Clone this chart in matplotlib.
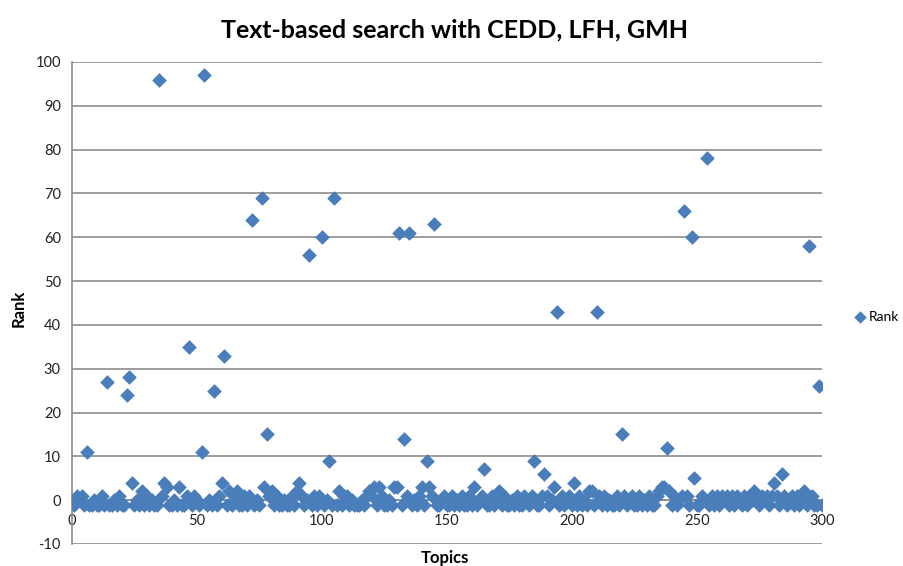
import matplotlib.pyplot as plt
import numpy as np

# rank of the relevant image per topic (-1 = not retrieved)
topics = np.arange(1, 301)
rank = [
    -1, 1, 0, 1, -1, 11, -1, -1, 0, -1, -1, 1, -1, 27, -1, -1, 0, -1, 1, -1,
    -1, 24, 28, 4, -1, 0, -1, 2, -1, 1, -1, 0, -1, -1, 96, 1, 4, 3, -1, -1,
    0, -1, 3, -1, -1, 1, 35, -1, 1, 0, -1, 11, 97, -1, 0, -1, 25, -1, 1, 4,
    33, -1, 2, -1, 0, 2, -1, -1, 1, -1, 1, 64, -1, 0, -1, 69, 3, 15, 1, 2,
    -1, 1, -1, -1, 0, -1, -1, 1, -1, 2, 4, 1, -1, 0, 56, -1, 1, -1, 1, 60,
    -1, 0, 9, -1, 69, -1, 2, -1, 1, 1, -1, 0, -1, -1, -1, 0, -1, 1, 2, 1,
    3, -1, 3, 1, -1, -1, 0, -1, 3, 3, 61, -1, 14, 1, 61, -1, 0, -1, 1, 3,
    -1, 9, 3, 1, 63, -1, -1, 0, 1, -1, -1, 1, -1, 0, -1, 1, -1, -1, 1, -1,
    3, -1, 0, 1, 7, -1, -1, 1, -1, 0, 2, -1, 1, -1, -1, 0, -1, 1, -1, -1,
    1, 0, -1, 1, 9, -1, -1, 1, 6, 1, -1, 0, 3, 43, -1, 1, -1, 0, 1, -1,
    4, -1, 1, -1, 0, -1, 2, 2, -1, 43, 1, -1, 1, -1, 0, -1, -1, 1, -1, 15,
    1, -1, 0, 1, -1, -1, 1, -1, 0, -1, 1, -1, -1, 1, 2, 3, 3, 12, 2, -1,
    1, -1, 0, 1, 66, 1, -1, 60, 5, -1, -1, 1, 0, 78, -1, 1, -1, 1, -1, 1,
    0, 1, -1, 1, -1, 1, 0, -1, 1, -1, 1, 0, 2, 1, -1, 1, 0, 1, -1, 1,
    4, 1, -1, 6, 1, -1, 0, 1, -1, 1, -1, 0, 2, -1, 58, 1, -1, -1, 26, -1,
]
x_ticks = [0, 50, 100, 150, 200, 250, 300]
y_ticks = list(range(-10, 101, 10))

plt.rcParams['font.family'] = ['Lato', 'DejaVu Sans']
plt.rcParams['axes.unicode_minus'] = False

fig = plt.figure(figsize=(9.04, 5.66), dpi=100)
ax = fig.add_axes([0.0796, 0.0389, 0.8296, 0.8516])

ax.scatter(topics, rank, marker='D', s=56, color='#4A7EBB', label='Rank',
           zorder=3, linewidths=0)

ax.set_xlim(0, 300)
ax.set_ylim(-10, 100)
ax.set_xticks(x_ticks)
ax.set_yticks(y_ticks)
ax.grid(axis='y', color='#8c8c8c', linewidth=1.2, zorder=0)
ax.set_axisbelow(True)

for side in ['top', 'right']:
    ax.spines[side].set_visible(False)
ax.spines['bottom'].set_position(('data', 0))
ax.spines['bottom'].set_color('#8c8c8c')
ax.spines['left'].set_color('#8c8c8c')
ax.spines['left'].set_linewidth(1.2)
ax.spines['bottom'].set_linewidth(1.2)
ax.tick_params(axis='x', length=0, pad=10, labelsize=10.5, labelcolor='#222222')
ax.tick_params(axis='y', length=0, pad=8, labelsize=10.5, labelcolor='#222222')

fig.text(0.503, 0.947, 'Text-based search with CEDD, LFH, GMH',
         ha='center', va='center', fontsize=18, fontweight='bold')
fig.text(0.021, 0.455, 'Rank', rotation=90, ha='center', va='center',
         fontsize=12, fontweight='bold')
fig.text(0.492, 0.014, 'Topics', ha='center', va='center',
         fontsize=12, fontweight='bold')

ax.legend(loc='center left', bbox_to_anchor=(1.04, 0.471), frameon=False,
          fontsize=10, handletextpad=0.0, handlelength=1.2, borderpad=0,
          borderaxespad=0, markerscale=0.85)

fig.savefig('out.png', dpi=100)
